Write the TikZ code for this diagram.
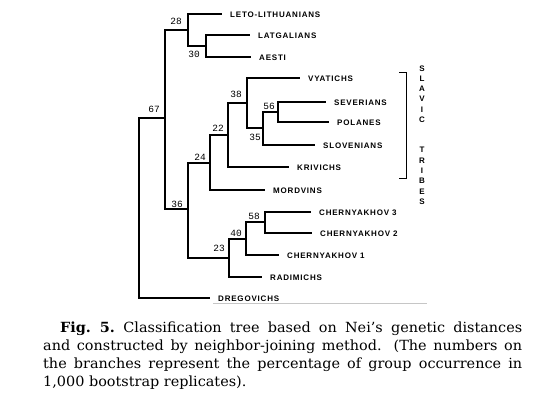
\documentclass[tikz,border=0pt]{standalone}
\usepackage{fontspec}
\usepackage{tikz}
\usetikzlibrary{positioning}
\newfontfamily\taxonfont[LetterSpace=10]{Liberation Sans Bold}
\newfontfamily\tribefont{Liberation Sans Bold}
\newfontfamily\bootfont{Liberation Mono}
\newfontfamily\captionfont[FakeStretch=1.03]{DejaVu Serif}

\begin{document}
\begin{tikzpicture}[x=1pt, y=-1pt,
    branch/.style={line width=1.9pt},
    taxon/.style={anchor=west, inner xsep=8pt, inner ysep=0pt, text height=6pt, text depth=0pt, font=\taxonfont\fontsize{8}{9}\selectfont},
    boot/.style={inner sep=0pt, font=\bootfont\fontsize{9.5}{10}\selectfont}]
    \useasboundingbox (0,0) rectangle (540,405);

    % Taxa (leaves)
    \node[taxon] (leto) at (222,14) {LETO-LITHUANIANS};
    \node[taxon] (latg) at (250,35) {LATGALIANS};
    \node[taxon] (aesti) at (251,57) {AESTI};
    \node[taxon] (vyat) at (300,78) {VYATICHS};
    \node[taxon] (sev) at (326,102) {SEVERIANS};
    \node[taxon] (pol) at (329,122) {POLANES};
    \node[taxon] (slov) at (315,145) {SLOVENIANS};
    \node[taxon] (kriv) at (289,167) {KRIVICHS};
    \node[taxon] (mord) at (265,190) {MORDVINS};
    \node[taxon] (ch3) at (311,212) {CHERNYAKHOV 3};
    \node[taxon] (ch2) at (312,233) {CHERNYAKHOV 2};
    \node[taxon] (ch1) at (279,255) {CHERNYAKHOV 1};
    \node[taxon] (rad) at (262,277) {RADIMICHS};
    \node[taxon] (dreg) at (210,298) {DREGOVICHS};

    % Inner nodes
    \coordinate (root) at (139,208);
    \coordinate (n67) at (165,118);
    \coordinate (n28) at (188,30);
    \coordinate (n30) at (206,46);
    \coordinate (n36) at (188,209);
    \coordinate (n24) at (210,163);
    \coordinate (n22) at (228,135);
    \coordinate (n38) at (247,103);
    \coordinate (n35) at (263,128);
    \coordinate (n56) at (278,112);
    \coordinate (n23) at (229,258);
    \coordinate (n40) at (246,239);
    \coordinate (n58) at (265,222);

    % Branches
    \draw[branch] (root) |- (n67);
    \draw[branch] (root) |- (dreg);
    \draw[branch] (n67) |- (n28);
    \draw[branch] (n67) |- (n36);
    \draw[branch] (n28) |- (leto);
    \draw[branch] (n28) |- (n30);
    \draw[branch] (n30) |- (latg);
    \draw[branch] (n30) |- (aesti);
    \draw[branch] (n36) |- (n24);
    \draw[branch] (n36) |- (n23);
    \draw[branch] (n24) |- (n22);
    \draw[branch] (n24) |- (mord);
    \draw[branch] (n22) |- (n38);
    \draw[branch] (n22) |- (kriv);
    \draw[branch] (n38) |- (vyat);
    \draw[branch] (n38) |- (n35);
    \draw[branch] (n35) |- (n56);
    \draw[branch] (n35) |- (slov);
    \draw[branch] (n56) |- (sev);
    \draw[branch] (n56) |- (pol);
    \draw[branch] (n23) |- (n40);
    \draw[branch] (n23) |- (rad);
    \draw[branch] (n40) |- (n58);
    \draw[branch] (n40) |- (ch1);
    \draw[branch] (n58) |- (ch3);
    \draw[branch] (n58) |- (ch2);

    % Bootstrap values
    \node[boot] (b67) at (154,109) {67};
    \node[boot] (b28) at (176,21) {28};
    \node[boot] (b30) at (194,54) {30};
    \node[boot] (b36) at (177,204) {36};
    \node[boot] (b24) at (200,157) {24};
    \node[boot] (b22) at (218,128) {22};
    \node[boot] (b38) at (236,94) {38};
    \node[boot] (b35) at (255,137) {35};
    \node[boot] (b56) at (269,106) {56};
    \node[boot] (b23) at (219,248) {23};
    \node[boot] (b40) at (236,233) {40};
    \node[boot] (b58) at (254,216) {58};

    % Slavic tribes bracket
    \draw[line width=0.7pt] (399,72) -| (406,178) -- (399,178);
    \node[align=center, inner sep=0pt, font=\tribefont\fontsize{8}{10.2}\selectfont] (slavic) at (422,94) {S\\L\\A\\V\\I\\C};
    \node[align=center, inner sep=0pt, font=\tribefont\fontsize{8}{10.4}\selectfont] (tribes) at (422,176) {T\\R\\I\\B\\E\\S};

    % faint rule under the tree
    \coordinate (rule-a) at (213,303);
    \coordinate (rule-b) at (427,303);
    \draw[gray!45, line width=0.6pt] (rule-a) -- (rule-b);

    % Caption
    \node[anchor=north west, text width=479pt, align=justify, inner sep=0pt, font=\captionfont\fontsize{14}{18}\selectfont] (caption) at (43,322) {\hyphenpenalty=10000\exhyphenpenalty=10000\hspace*{17pt}\textbf{Fig.~5.}\hspace{0.6em}Classification tree based on Nei’s genetic distances\linebreak and constructed by neighbor-joining method. (The numbers on\linebreak the branches represent the percentage of group occurrence in\linebreak 1,000 bootstrap replicates).};
\end{tikzpicture}
\end{document}
